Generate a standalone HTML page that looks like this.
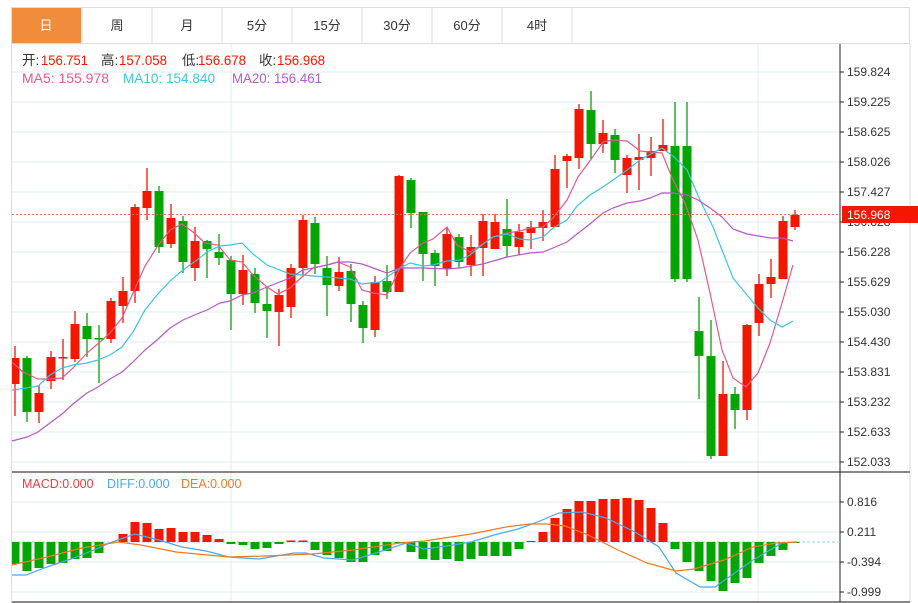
<!DOCTYPE html>
<html><head><meta charset="utf-8">
<style>
html,body{margin:0;padding:0;background:#fff;width:918px;height:603px;overflow:hidden}
svg{display:block;font-family:"Liberation Sans","Noto Sans CJK SC",sans-serif}
</style></head><body>
<svg id="s" width="918" height="603" viewBox="0 0 918 603" xmlns="http://www.w3.org/2000/svg">
<rect x="0" y="0" width="918" height="603" fill="#fff"/>
<!-- tabs -->
<rect x="11.5" y="7.5" width="898" height="36" fill="#fff" stroke="#dcdcdc"/>
<rect x="12" y="8" width="69" height="35" fill="#f08c3c"/>
<g stroke="#dcdcdc"><line x1="82" y1="8" x2="82" y2="43"/><line x1="152" y1="8" x2="152" y2="43"/><line x1="222" y1="8" x2="222" y2="43"/><line x1="292" y1="8" x2="292" y2="43"/><line x1="362" y1="8" x2="362" y2="43"/><line x1="432" y1="8" x2="432" y2="43"/><line x1="502" y1="8" x2="502" y2="43"/><line x1="572" y1="8" x2="572" y2="43"/></g>
<g font-size="13" text-anchor="middle" fill="#333">
<text x="46" y="30" fill="#fff">日</text><text x="117" y="30">周</text><text x="187" y="30">月</text><text x="257" y="30">5分</text><text x="327" y="30">15分</text><text x="397" y="30">30分</text><text x="467" y="30">60分</text><text x="537" y="30">4时</text>
</g>
<line x1="11.5" y1="43" x2="11.5" y2="603" stroke="#dcdcdc"/>
<line x1="910" y1="43" x2="910" y2="603" stroke="#dcdcdc"/>
<g id="grid" stroke="#e1ebf2" stroke-width="1"></g>
<line x1="231" y1="44" x2="231" y2="602" stroke="#e1ebf2"/>
<line x1="758" y1="44" x2="758" y2="602" stroke="#e1ebf2"/>
<!-- header text -->
<g font-size="13.5">
<text x="22" y="65" fill="#333">开:</text><text x="41" y="65" fill="#f21800" textLength="47" lengthAdjust="spacingAndGlyphs">156.751</text>
<text x="101" y="65" fill="#333">高:</text><text x="119" y="65" fill="#f21800" textLength="48" lengthAdjust="spacingAndGlyphs">157.058</text>
<text x="182" y="65" fill="#333">低:</text><text x="198" y="65" fill="#f21800" textLength="48" lengthAdjust="spacingAndGlyphs">156.678</text>
<text x="259" y="65" fill="#333">收:</text><text x="277" y="65" fill="#f21800" textLength="48" lengthAdjust="spacingAndGlyphs">156.968</text>
<text x="22" y="83" fill="#e8578a" textLength="87" lengthAdjust="spacingAndGlyphs">MA5: 155.978</text>
<text x="123" y="83" fill="#3bc4dd" textLength="92" lengthAdjust="spacingAndGlyphs">MA10: 154.840</text>
<text x="232" y="83" fill="#b45ac8" textLength="90" lengthAdjust="spacingAndGlyphs">MA20: 156.461</text>
</g>
<g id="candles"></g>
<g id="ma" fill="none" stroke-width="1.2"></g>
<line x1="12" y1="214.5" x2="840" y2="214.5" stroke="#f26a5a" stroke-dasharray="2,2"/>
<!-- axes -->
<line x1="840" y1="44" x2="840" y2="602" stroke="#222"/>
<line x1="12" y1="472" x2="910" y2="472" stroke="#111"/>
<line x1="12" y1="602" x2="910" y2="602" stroke="#111"/>
<g id="axis" font-size="12" fill="#333"></g>
<rect x="842" y="206" width="76" height="17" fill="#f21800"/>
<text x="847" y="219" font-size="12" fill="#fff">156.968</text>
<!-- MACD -->
<g font-size="12.5">
<text x="22" y="488" fill="#f03c3c">MACD:0.000</text>
<text x="107" y="488" fill="#4aa8f0">DIFF:0.000</text>
<text x="181" y="488" fill="#f07a22">DEA:0.000</text>
</g>
<line x1="12" y1="542" x2="840" y2="542" stroke="#8fd8ea" stroke-dasharray="3,2"/>
<g id="bars"></g>
<g id="macdl" fill="none" stroke-width="1.2"></g>
</svg>
<script>
var NS="http://www.w3.org/2000/svg";
function el(p,t,a){var e=document.createElementNS(NS,t);for(var k in a)e.setAttribute(k,a[k]);document.getElementById(p).appendChild(e);return e;}
var labs=["159.824","159.225","158.625","158.026","157.427","156.828","156.228","155.629","155.030","154.430","153.831","153.232","152.633","152.033"];
for(var i=0;i<14;i++){var y=72+30*i;el("grid","line",{x1:12,y1:y,x2:840,y2:y});el("axis","line",{x1:840,y1:y,x2:844,y2:y,stroke:"#222"});var t=el("axis","text",{x:847,y:y+4});t.textContent=labs[i];}
var ml=[["0.816",502],["0.211",532],["-0.394",562],["-0.999",592]];
ml.forEach(function(m){el("grid","line",{x1:12,y1:m[1],x2:840,y2:m[1]});el("axis","line",{x1:840,y1:m[1],x2:844,y2:m[1],stroke:"#222"});var t=el("axis","text",{x:847,y:m[1]+4});t.textContent=m[0];});
var R="#f21800",G="#05a505";
var C=[["r",358,384,346,416],["g",358,412,356,422],["r",393,412,385,423],["r",357,381,351,389],["r",357,358,339,380],["r",324,359,311,362],["g",326,339,313,357],["g",338,339,325,383],["r",301,339,298,343],["r",291,306,277,323],["r",207,291,204,303],["r",191,208,168,220],["g",191,247,186,253],["r",218,244,204,248],["g",221,262,216,273],["r",241,268,227,281],["g",241,249,240,278],["g",252,258,234,265],["g",260,294,256,330],["r",270,294,255,305],["g",274,303,268,313],["g",304,311,288,338],["r",295,312,289,346],["r",268,307,264,318],["r",220,268,215,276],["g",223,264,217,274],["g",268,285,256,316],["r",272,286,257,291],["g",271,304,264,322],["g",305,328,301,343],["r",282,330,276,337],["g",281,292,265,299],["r",176,292,175,292],["g",180,213,178,228],["g",212,254,212,281],["g",253,266,250,286],["r",234,269,227,276],["g",237,262,234,268],["r",247,265,235,276],["r",221,248,214,276],["r",222,249,214,249],["g",229,246,199,257],["r",232,247,224,255],["r",227,233,221,249],["r",222,228,210,241],["r",169,227,155,227],["r",156,161,154,188],["r",109,158,104,169],["g",110,144,91,159],["r",133,144,120,153],["g",135,160,129,173],["r",158,175,155,193],["r",157,160,134,190],["r",151,158,137,176],["r",145,151,119,151],["g",146,279,102,282],["g",146,279,102,282],["g",331,356,297,399],["g",356,456,320,459],["r",394,456,361,456],["g",394,410,387,429],["r",325,410,324,420],["r",284,323,274,336],["r",277,284,259,298],["r",221,279,216,279],["r",215,227,210,230]];
C.forEach(function(c,i){var x=15+12*i,col=c[0]=="r"?R:G;
el("candles","line",{x1:x,y1:c[3],x2:x,y2:c[4],stroke:col,"stroke-width":1.3});
var x0=Math.max(12,x-4.5);el("candles","rect",{x:x0,y:c[1],width:x+4.5-x0,height:Math.max(1.5,c[2]-c[1]),fill:col});});
function pl(g,pts,col){el(g,"polyline",{points:pts,stroke:col});}
pl("ma","12,362 23,372 38,379 50,379 62,378 73,368 87,353 100,342 110,333 122,318 133,293 145,266 157,247 170,230 182,224 193,232 205,243 218,245 230,260 242,262 253,275 267,287 278,294 290,288 302,277 313,268 327,265 338,262 350,267 362,290 373,293 387,295 400,268 410,253 423,243 433,239 447,227 457,245 470,252 483,244 493,237 507,233 520,231 530,228 543,227 553,218 567,200 578,177 592,158 603,142 613,140 627,141 640,151 650,152 662,153 673,180 685,203 698,240 710,293 722,350 733,378 746,387 758,373 770,343 782,303 793,265","#e8578a");
pl("ma","12,390 26,388 38,386 50,375 62,368 73,365 87,363 98,360 110,355 122,347 133,332 145,310 157,295 170,281 183,270 197,260 207,252 220,246 230,245 242,243 253,254 267,265 290,274 313,276 327,277 350,279 362,284 380,282 400,268 410,263 423,266 433,265 447,261 460,260 470,255 483,244 493,237 507,234 520,239 530,240 543,237 553,228 567,220 577,206 590,195 603,187 613,180 627,170 640,160 662,148 674,157 687,170 700,200 713,227 733,278 747,295 758,308 770,320 782,327 793,321","#3bc4dd");
pl("ma","12,441 27,437 38,432 50,423 62,414 73,404 87,393 98,387 110,379 122,372 133,362 145,350 157,340 170,328 183,320 197,314 207,310 220,303 230,301 242,295 253,293 267,287 290,278 303,270 313,268 327,265 338,262 350,262 362,264 387,273 400,268 410,268 423,268 447,269 460,268 483,264 507,257 530,253 543,252 553,248 567,242 577,234 590,224 603,213 613,208 627,203 640,201 650,198 662,193 673,193 687,195 698,200 710,208 722,217 733,229 747,234 770,238 782,238 793,241","#b45ac8");
var B=[564,571,568,564,563,559,558,553,542,534,522,523,529,528,532,532,535,539,544,545,549,548,544,540.5,540.5,550,555,558,562,562,555,551,543,552,559,560,559,561,559,556,556,556,549,541,532,518,509,501,501,499,499,498,500,508,523,549,562,571,581,591,583,578,563,556,550,543];
B.forEach(function(v,i){var x=15+12*i;if(Math.abs(v-542)<0.6)return;var x0=Math.max(12,x-4.5);var up=v<542;
el("bars","rect",{x:x0,y:up?v:542,width:x+4.5-x0,height:Math.abs(v-542),fill:up?R:G});});
pl("macdl","12,575 26,575 47,567 71,559 94,550 112,542 135,534 159,540 182,547 206,551 229,557 259,559 294,553 306,553 324,558 353,560 376,553 406,543 424,549 447,546 471,542 494,535 518,529 535,523 559,513 582,512 606,518 635,532 659,547 676,573 700,587 715,587 729,577 753,560 782,543 794,542","#4aa8f0");
pl("macdl","12,565 47,557 82,548 118,542 141,545 176,552 229,557 265,556 312,554 353,550 400,543 424,541 471,534 506,527 529,524 547,524 565,526 588,535 618,550 647,563 676,571 694,569 724,560 753,547 776,543 797,542","#f07a22");
</script>
</body></html>
